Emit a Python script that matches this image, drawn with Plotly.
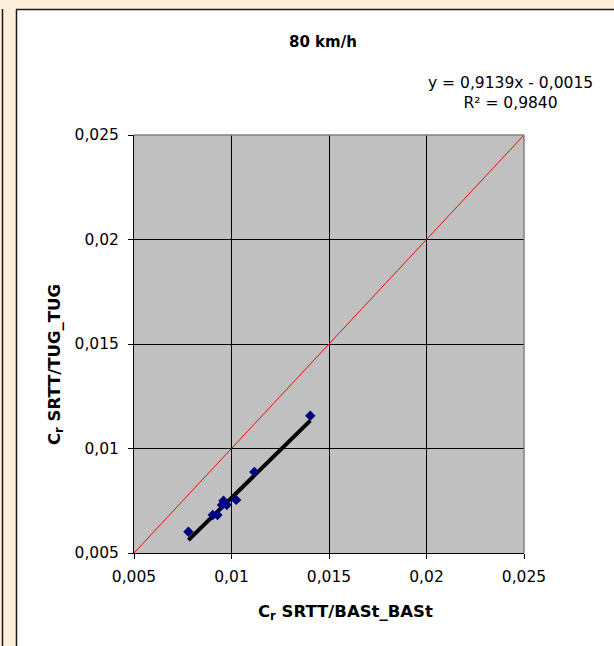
import plotly.graph_objects as go

# ---- data ----
x_vals = [0.00779, 0.00904, 0.00928, 0.00951, 0.00959, 0.00976, 0.01024, 0.01117, 0.01404]
y_vals = [0.00602, 0.00682, 0.00682, 0.00730, 0.00750, 0.00730, 0.00754, 0.00888, 0.01157]
diag_vals = [0.005, 0.025]
trend_slope = 0.9139
trend_intercept = -0.0015
tick_vals = [0.005, 0.01, 0.015, 0.02, 0.025]
tick_text = ["0,005", "0,01", "0,015", "0,02", "0,025"]
title_text = "80 km/h"
equation_text = "y = 0,9139x - 0,0015<br>R² = 0,9840"
x_title = "C<sub>r</sub> SRTT/BASt_BASt"
y_title = "C<sub>r</sub> SRTT/TUG_TUG"

trend_x = [min(x_vals), max(x_vals)]
trend_y = [trend_slope * v + trend_intercept for v in trend_x]

# ---- layout geometry (pixels) ----
W_FIG, H_FIG = 614, 646
L, T = 134, 135
PW, PH = 390, 418
R = W_FIG - L - PW
B = H_FIG - T - PH

def px2x(px):
    return (px - L) / PW

def py2y(py):
    return (T + PH - py) / PH

TAN = "#FEEFDA"
DARK = "#1a1a1a"
FONT = "DejaVu Sans"

fig = go.Figure()
fig.add_trace(go.Scatter(x=diag_vals, y=diag_vals, mode="lines",
                         line=dict(color="#FF0000", width=1), hoverinfo="skip"))
fig.add_trace(go.Scatter(x=trend_x, y=trend_y, mode="lines",
                         line=dict(color="black", width=4), hoverinfo="skip"))
fig.add_trace(go.Scatter(x=x_vals, y=y_vals, mode="markers",
                         marker=dict(symbol="diamond", size=8, color="#000080",
                                     line=dict(width=0))))

axis_common = dict(
    range=[0.005, 0.025], tickvals=tick_vals, ticktext=tick_text,
    showgrid=True, gridcolor="black", gridwidth=1,
    showline=True, linecolor="black", linewidth=1,
    ticks="outside", ticklen=5, tickcolor="black", tickwidth=1,
    zeroline=False, tickfont=dict(family=FONT, size=15.5, color="black"),
)

shapes = [
    # tan strips
    dict(type="rect", xref="paper", yref="paper", x0=px2x(-2), x1=px2x(17),
         y0=py2y(H_FIG + 2), y1=py2y(-2), fillcolor=TAN, line=dict(width=0), layer="below"),
    dict(type="rect", xref="paper", yref="paper", x0=px2x(-2), x1=px2x(W_FIG + 2),
         y0=py2y(10), y1=py2y(-2), fillcolor=TAN, line=dict(width=0), layer="below"),
    # frame lines
    dict(type="line", xref="paper", yref="paper", x0=px2x(2.5), x1=px2x(2.5),
         y0=py2y(9), y1=py2y(H_FIG + 2), line=dict(color=DARK, width=1.5)),
    dict(type="line", xref="paper", yref="paper", x0=px2x(16.5), x1=px2x(16.5),
         y0=py2y(9.5), y1=py2y(H_FIG + 2), line=dict(color=DARK, width=1.5)),
    dict(type="line", xref="paper", yref="paper", x0=px2x(16), x1=px2x(W_FIG + 2),
         y0=py2y(9.5), y1=py2y(9.5), line=dict(color=DARK, width=1.5)),
    # grey plot border top / right
    dict(type="line", xref="paper", yref="paper", x0=0, x1=1, y0=1, y1=1,
         line=dict(color="#808080", width=1.5), layer="above"),
    dict(type="line", xref="paper", yref="paper", x0=1, x1=1, y0=0, y1=1,
         line=dict(color="#808080", width=1.5), layer="above"),
]

annotations = [
    dict(text="<b>" + title_text + "</b>", xref="paper", yref="paper",
         x=px2x(323), y=py2y(42), showarrow=False, xanchor="center", yanchor="middle",
         font=dict(family=FONT, size=15, color="black")),
    dict(text=equation_text, xref="paper", yref="paper",
         x=px2x(510), y=py2y(93), showarrow=False, xanchor="center", yanchor="middle",
         align="center", font=dict(family=FONT, size=15.5, color="black")),
    dict(text="<b>" + x_title + "</b>", xref="paper", yref="paper",
         x=px2x(345), y=py2y(612), showarrow=False, xanchor="center", yanchor="middle",
         font=dict(family=FONT, size=16.5, color="black")),
    dict(text="<b>" + y_title + "</b>", xref="paper", yref="paper",
         x=px2x(55), y=py2y(365), showarrow=False, xanchor="center", yanchor="middle",
         textangle=-90, font=dict(family=FONT, size=16.5, color="black")),
]

fig.update_layout(
    width=W_FIG, height=H_FIG,
    margin=dict(l=L, r=R, t=T, b=B, pad=0),
    paper_bgcolor="white", plot_bgcolor="#C0C0C0",
    showlegend=False,
    xaxis=dict(**axis_common, ticklabelstandoff=4),
    yaxis=dict(**axis_common, ticklabelstandoff=6),
    shapes=shapes, annotations=annotations,
)

fig.write_html("out.html", config={"displayModeBar": False},
               post_script="document.body.style.margin='0';")
